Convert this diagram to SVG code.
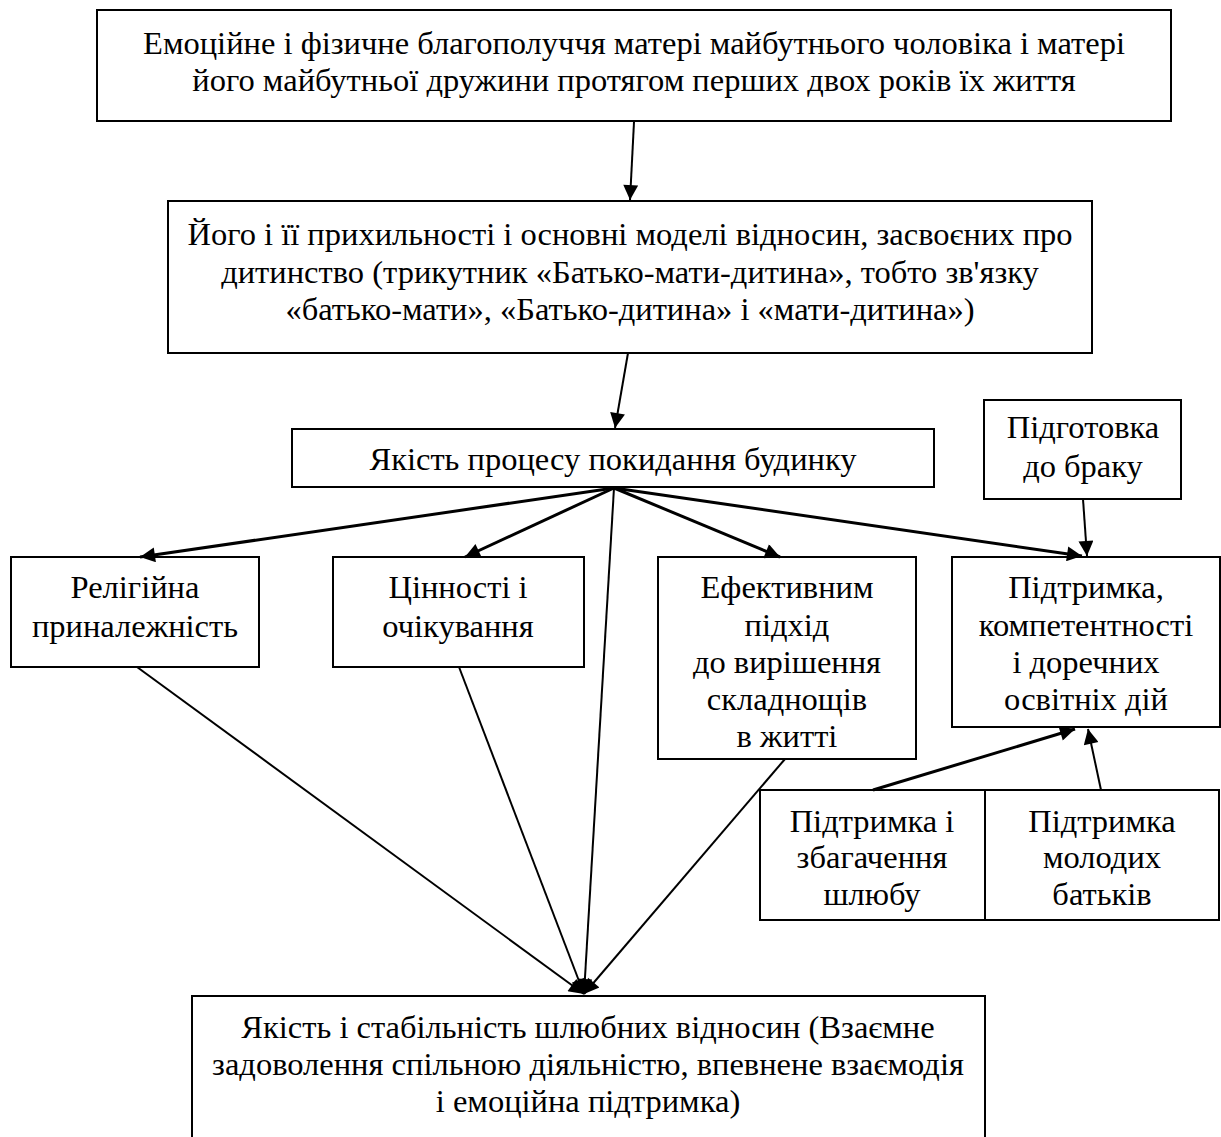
<svg xmlns="http://www.w3.org/2000/svg" width="1221" height="1137" viewBox="0 0 1221 1137">
<defs>
<marker id="ah" viewBox="0 0 10 10" refX="10" refY="5" markerWidth="20" markerHeight="15" markerUnits="userSpaceOnUse" orient="auto"><path d="M0,0L10,5L0,10z" fill="#000"/></marker>
</defs>
<rect width="1221" height="1137" fill="#fff"/>
<g fill="#fff" stroke="#000" stroke-width="2">
<rect id="r1" x="97" y="10" width="1074" height="111"/>
<rect id="r2" x="168" y="201" width="924" height="152"/>
<rect id="r3" x="292" y="429" width="642" height="58"/>
<rect id="r4" x="984" y="400" width="197" height="99"/>
<rect id="r5" x="11" y="557" width="248" height="110"/>
<rect id="r6" x="333" y="557" width="251" height="110"/>
<rect id="r7" x="658" y="557" width="258" height="202"/>
<rect id="r8" x="952" y="557" width="268" height="170"/>
<rect id="r9" x="760" y="790" width="225" height="130"/>
<rect id="r10" x="985" y="790" width="234" height="130"/>
<rect id="r11" x="192" y="996" width="793" height="160"/>
</g>
<g fill="#000" text-anchor="middle">
<g id="n1">
<text font-family="Liberation Serif" font-size="32.5" x="634" y="54">Емоційне і фізичне благополуччя матері майбутнього чоловіка і матері</text>
<text font-family="Liberation Serif" font-size="32.5" x="634" y="91">його майбутньої дружини протягом перших двох років їх життя</text></g>
<g id="n2">
<text font-family="Liberation Serif" font-size="32.5" x="630" y="245">Його і її прихильності і основні моделі відносин, засвоєних про</text>
<text font-family="Liberation Serif" font-size="32.5" x="630" y="283">дитинство (трикутник «Батько-мати-дитина», тобто зв'язку</text>
<text font-family="Liberation Serif" font-size="32.5" x="630" y="320">«батько-мати», «Батько-дитина» і «мати-дитина»)</text></g>
<g id="n3">
<text font-family="Liberation Serif" font-size="32.5" x="613" y="470">Якість процесу покидання будинку</text></g>
<g id="n4">
<text font-family="Liberation Serif" font-size="32.5" x="1083" y="438">Підготовка</text>
<text font-family="Liberation Serif" font-size="32.5" x="1083" y="477">до браку</text></g>
<g id="n5">
<text font-family="Liberation Serif" font-size="32.5" x="135" y="598">Релігійна</text>
<text font-family="Liberation Serif" font-size="32.5" x="135" y="637">приналежність</text></g>
<g id="n6">
<text font-family="Liberation Serif" font-size="32.5" x="458" y="598">Цінності і</text>
<text font-family="Liberation Serif" font-size="32.5" x="458" y="637">очікування</text></g>
<g id="n7">
<text font-family="Liberation Serif" font-size="32.5" x="787" y="598">Ефективним</text>
<text font-family="Liberation Serif" font-size="32.5" x="787" y="636">підхід</text>
<text font-family="Liberation Serif" font-size="32.5" x="787" y="673">до вирішення</text>
<text font-family="Liberation Serif" font-size="32.5" x="787" y="710">складнощів</text>
<text font-family="Liberation Serif" font-size="32.5" x="787" y="747">в житті</text></g>
<g id="n8">
<text font-family="Liberation Serif" font-size="32.5" x="1086" y="598">Підтримка,</text>
<text font-family="Liberation Serif" font-size="32.5" x="1086" y="636">компетентності</text>
<text font-family="Liberation Serif" font-size="32.5" x="1086" y="673">і доречних</text>
<text font-family="Liberation Serif" font-size="32.5" x="1086" y="710">освітніх дій</text></g>
<g id="n9">
<text font-family="Liberation Serif" font-size="32.5" x="872" y="832">Підтримка і</text>
<text font-family="Liberation Serif" font-size="32.5" x="872" y="868">збагачення</text>
<text font-family="Liberation Serif" font-size="32.5" x="872" y="905">шлюбу</text></g>
<g id="n10">
<text font-family="Liberation Serif" font-size="32.5" x="1102" y="832">Підтримка</text>
<text font-family="Liberation Serif" font-size="32.5" x="1102" y="868">молодих</text>
<text font-family="Liberation Serif" font-size="32.5" x="1102" y="905">батьків</text></g>
<g id="n11">
<text font-family="Liberation Serif" font-size="32.5" x="588" y="1038">Якість і стабільність шлюбних відносин (Взаємне</text>
<text font-family="Liberation Serif" font-size="32.5" x="588" y="1075">задоволення спільною діяльністю, впевнене взаємодія</text>
<text font-family="Liberation Serif" font-size="32.5" x="588" y="1112">і емоційна підтримка)</text></g>
</g>
<g id="connectors" stroke="#000" fill="none" stroke-width="2">
<line x1="634" y1="122" x2="630" y2="200" marker-end="url(#ah)"/>
<line x1="628" y1="353" x2="615" y2="428" marker-end="url(#ah)"/>
<line stroke-width="3" x1="614" y1="488" x2="140" y2="557" marker-end="url(#ah)"/>
<line stroke-width="3" x1="614" y1="488" x2="465" y2="557" marker-end="url(#ah)"/>
<line stroke-width="3" x1="614" y1="488" x2="780" y2="557" marker-end="url(#ah)"/>
<line stroke-width="3" x1="614" y1="488" x2="1082" y2="556" marker-end="url(#ah)"/>
<line x1="1083" y1="499" x2="1087" y2="556" marker-end="url(#ah)"/>
<line x1="614" y1="488" x2="584" y2="994" marker-end="url(#ah)"/>
<line x1="137" y1="667" x2="584" y2="994" marker-end="url(#ah)"/>
<line x1="459" y1="667" x2="584" y2="994" marker-end="url(#ah)"/>
<line x1="785" y1="759" x2="584" y2="994" marker-end="url(#ah)"/>
<line stroke-width="3" x1="873" y1="790" x2="1075" y2="729" marker-end="url(#ah)"/>
<line x1="1101" y1="790" x2="1088" y2="729" marker-end="url(#ah)"/>
</g>
</svg>
